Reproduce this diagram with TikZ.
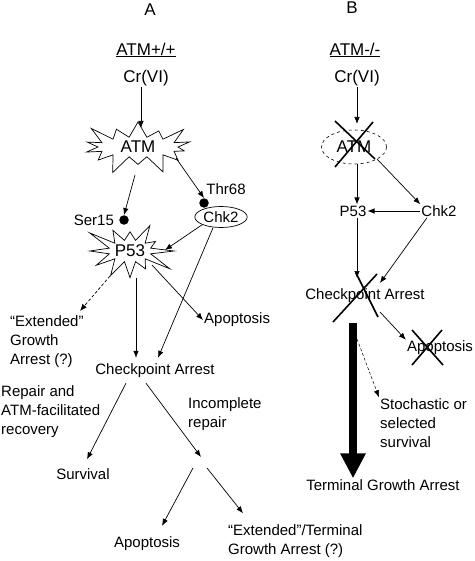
\documentclass[tikz,border=0pt]{standalone}
\usepackage{fontspec}
\setmainfont{Liberation Sans}
\usepackage{tikz}
\usetikzlibrary{arrows.meta,shapes.symbols,shapes.geometric,positioning,calc}
\usepackage{xcolor}
\tikzstyle{arrow} = [line width=0.7pt,-{Latex[length=7pt,width=5.5pt]}]
\tikzstyle{dasharrow} = [arrow, dash pattern=on 3pt off 2pt]
\tikzstyle{biglabel} = [inner sep=1pt, font=\fontsize{17}{19}\selectfont]
\tikzstyle{txt} = [inner sep=1pt, font=\fontsize{15}{19}\selectfont]
\tikzstyle{multitxt} = [txt, align=left, anchor=west]
\tikzstyle{burst} = [starburst, draw, line width=0.7pt, inner sep=0pt, font=\fontsize{17}{19}\selectfont]
\tikzstyle{pdot} = [circle, fill=black, inner sep=0pt, minimum size=9.5pt]
\tikzstyle{xstroke} = [line width=1.6pt]

\begin{document}
\begin{tikzpicture}[x=1pt, y=-1pt]
    \useasboundingbox (0,0) rectangle (474,561);

    % Panel A: ATM+/+
    \node[biglabel] (labA) at (150,10) {A};
    \node[biglabel] (genoA) at (146,50) {\underline{ATM+/+}};
    \node[biglabel] (crA) at (146,78) {Cr(VI)};
    \node[burst, minimum width=122pt, minimum height=62pt, starburst points=14,
          starburst point height=21pt] (atmA) at (138,147) {ATM};
    \node[pdot] (dotSer) at (124,220) {};
    \node[txt, left=4pt of dotSer] (ser) {Ser15};
    \node[pdot] (dotThr) at (204,203) {};
    \node[txt] (thr) at (226,189) {Thr68};
    \node[ellipse, draw, line width=0.7pt, inner sep=1pt, minimum width=44pt, minimum height=21pt,
          font=\fontsize{15}{19}\selectfont] (chk2A) at (221,217) {Chk2};
    \node[burst, minimum width=94pt, minimum height=74pt, starburst points=12,
          starburst point height=26pt, random starburst=3] (p53A) at (130,251) {P53};
    \node[multitxt] (extA) at (9,342) {“Extended”\\Growth\\Arrest (?)};
    \node[txt, anchor=west] (apoA) at (203,320) {Apoptosis};
    \node[txt] (chkA) at (155,371) {Checkpoint Arrest};
    \node[multitxt] (repair) at (0,412) {Repair and\\ATM-facilitated\\recovery};
    \node[multitxt] (incompl) at (187,414) {Incomplete\\repair};
    \node[txt] (surv) at (83,474) {Survival};
    \coordinate (split) at (200,463);
    \node[txt] (apoA2) at (147,544) {Apoptosis};
    \node[multitxt] (extA2) at (227,541) {“Extended”/Terminal\\Growth Arrest (?)};

    % Arrows A
    \draw[arrow] (crA.south -| 141,0) -- (141,128);
    \draw[arrow] (135,175) -- (dotSer.north);
    \draw[arrow] (176,158) -- (dotThr.north);
    \draw[arrow] (chk2A.south west) -- (165,250);
    \draw[dasharrow] (110,276) -- (80,311);
    \draw[arrow] (136,278) -- ($(chkA.north)+(-19,-5)$);
    \draw[arrow] (152,265) -- (apoA.west);
    \draw[arrow] ($(chk2A.south)+(-8,0)$) -- ($(chkA.north)+(3,-5)$);
    \draw[arrow] ($(chkA.south)+(-29,4)$) -- ($(surv.north)+(4,-8)$);
    \draw[arrow] ($(chkA.south)+(-9,4)$) -- ($(split)+(1,-6)$);
    \draw[arrow] ($(split)+(-7,5)$) -- ($(apoA2.north)+(15,-10)$);
    \draw[arrow] ($(split)+(7,5)$) -- ($(extA2.north west)+(16,-10)$);

    % Panel B: ATM-/-
    \node[biglabel] (labB) at (352,8) {B};
    \node[biglabel] (genoB) at (355,50) {\underline{ATM-/-}};
    \node[biglabel] (crB) at (357,78) {Cr(VI)};
    \node[ellipse, draw, dashed, line width=0.6pt, minimum width=65pt, minimum height=34pt, inner sep=0pt,
          font=\fontsize{17}{19}\selectfont] (atmB) at (354,147) {ATM};
    \node[txt] (p53B) at (353,211) {P53};
    \node[txt] (chk2B) at (439,211) {Chk2};
    \node[txt] (chkB) at (365,296) {Checkpoint Arrest};
    \node[txt] (apoB) at (440,348) {Apoptosis};
    \node[txt] (termB) at (383,485) {Terminal Growth Arrest};
    \node[multitxt] (stochB) at (379,423) {Stochastic or\\selected\\survival};
    \coordinate (shaftB) at (357,339);

    % Arrows B
    \draw[arrow] (crB.south) -- (357,124);
    \draw[arrow] (atmB.south -| 357,0) -- (p53B.north -| 357,0);
    \draw[arrow] (atmB.south east) -- (chk2B.north west);
    \draw[arrow] (chk2B.west) -- (p53B.east);
    \draw[arrow] (p53B.south -| 357,0) -- (357,278);
    \draw[arrow] ($(chk2B.south)+(-12,0)$) -- (380,283);
    \draw[arrow] (380,312) -- (apoB.north west);
    \draw[line width=8pt, -{Triangle[length=25pt,width=24pt]}] (353,323) -- (termB.north -| 353,0);
    \draw[dasharrow, line width=0.5pt] (shaftB) -- (stochB.north west);

    % Crosses
    \draw[xstroke] ($(atmB)+(-19,-26)$) -- ($(atmB)+(21,12)$);
    \draw[xstroke] ($(atmB)+(19,-25)$) -- ($(atmB)+(-19,20)$);
    \draw[xstroke] ($(chkB)+(-9,-23)$) -- ($(chkB)+(13,21)$);
    \draw[xstroke] ($(chkB)+(12,-22)$) -- ($(chkB)+(-32,26)$);
    \draw[xstroke] ($(apoB)+(-28,-18)$) -- ($(apoB)+(3,17)$);
    \draw[xstroke] ($(apoB)+(2,-18)$) -- ($(apoB)+(-28,17)$);
\end{tikzpicture}
\end{document}
